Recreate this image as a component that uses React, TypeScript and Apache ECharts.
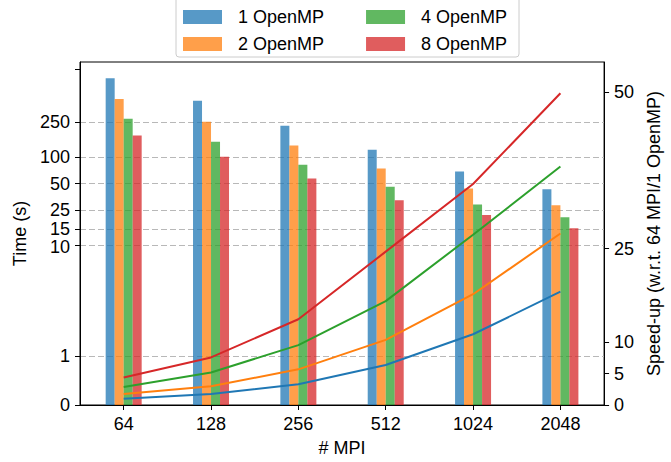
import React, { useEffect, useRef } from "react";
import * as echarts from "echarts";

const mpiCategories = ["64", "128", "256", "512", "1024", "2048"];
const seriesNames = ["1 OpenMP", "2 OpenMP", "4 OpenMP", "8 OpenMP"];

// Time (s) per MPI count, for each OpenMP setting
const time1 = [780, 433, 226, 121, 68.5, 43];
const time2 = [455, 251, 135, 74, 44, 28.5];
const time4 = [271, 149, 82, 46, 29, 20.8];
const time8 = [175, 101, 57, 32.4, 22, 15.6];

// Speed-up w.r.t. 64 MPI / 1 OpenMP
const speedup1 = [1.0, 1.75, 3.33, 6.4, 11.3, 18.1];
const speedup2 = [1.75, 3.0, 5.7, 10.4, 17.7, 27.4];
const speedup4 = [2.86, 5.2, 9.57, 16.6, 27.2, 38.1];
const speedup8 = [4.4, 7.6, 13.7, 24.5, 35.3, 49.8];

const timeTicks = [0, 1, 10, 15, 25, 50, 100, 250];
const timeMinorTicks = [1000];
const speedupTicks = [0, 5, 10, 25, 50];

const lineColors = ["#1f77b4", "#ff7f0e", "#2ca02c", "#d62728"];
const barColors = [
  "rgba(31,119,180,0.75)",
  "rgba(255,127,14,0.75)",
  "rgba(44,160,44,0.75)",
  "rgba(214,39,40,0.75)",
];

// symlog transform (base 10, linthresh 2, linscale 1)
const LINTHRESH = 2;
const LINSCALE_ADJ = 1 / (1 - 1 / 10);
const symlog = (v: number) =>
  v <= LINTHRESH
    ? (v * LINSCALE_ADJ) / LINTHRESH
    : LINSCALE_ADJ + Math.log10(v / LINTHRESH);

const TIME_AXIS_MAX = 3.887;
const SPEEDUP_AXIS_MAX = 54.8;

export default function App() {
  const ref = useRef<HTMLDivElement>(null);

  useEffect(() => {
    if (!ref.current) return;
    const chart = echarts.init(ref.current, undefined, { renderer: "svg" });
    const font = "'Liberation Sans', Arial, sans-serif";
    const times = [time1, time2, time4, time8];
    const speedups = [speedup1, speedup2, speedup4, speedup8];
    const txt = { fontSize: 18, color: "#000", fontFamily: font };

    const timeFormatter = (val: number) => {
      const t = timeTicks.find((x) => Math.abs(symlog(x) - val) < 1e-6);
      if (t === undefined) return "";
      if (t === 15) return "{up|15}";
      if (t === 10) return "{down|10}";
      return String(t);
    };

    const legendBase = {
      orient: "horizontal",
      itemWidth: 39,
      itemHeight: 14,
      itemGap: 42,
      padding: 0,
      icon: "rect",
      selectedMode: false,
      left: 183,
      textStyle: { ...txt, lineHeight: 20, padding: [0, 0, 0, 11] },
    };

    const option: any = {
      animation: false,
      backgroundColor: "#ffffff",
      textStyle: { fontFamily: font },
      grid: {
        left: 80,
        right: 56,
        top: 62,
        bottom: 55,
        show: true,
        borderColor: "#000",
        borderWidth: 1,
        backgroundColor: "transparent",
      },
      graphic: [
        {
          type: "rect",
          z: 0,
          shape: { x: 176, y: -3, width: 343, height: 60, r: 3 },
          style: { fill: "#ffffff", stroke: "#cccccc", lineWidth: 1 },
        },
      ],
      legend: [
        { ...legendBase, top: 7, data: [seriesNames[0], seriesNames[2]] },
        { ...legendBase, top: 34, data: [seriesNames[1], seriesNames[3]] },
      ],
      xAxis: {
        type: "category",
        data: mpiCategories,
        name: "# MPI",
        nameLocation: "middle",
        nameGap: 34,
        nameTextStyle: txt,
        axisLine: { show: true, lineStyle: { color: "#000", width: 1 } },
        axisTick: { show: true, alignWithLabel: true, length: 5, lineStyle: { color: "#000" } },
        axisLabel: { ...txt, margin: 10 },
        splitLine: { show: false },
      },
      yAxis: [
        {
          type: "value",
          position: "left",
          min: 0,
          max: TIME_AXIS_MAX,
          name: "Time (s)",
          nameLocation: "middle",
          nameGap: 50,
          nameTextStyle: txt,
          axisLine: { show: true, lineStyle: { color: "#000", width: 1 } },
          axisTick: {
            show: true,
            length: 5,
            customValues: timeTicks.map(symlog),
            lineStyle: { color: "#000" },
          },
          axisLabel: {
            ...txt,
            lineHeight: 15,
            margin: 10,
            customValues: timeTicks.map(symlog),
            formatter: timeFormatter,
            rich: {
              up: { ...txt, lineHeight: 14, padding: [0, 0, 2, 0] },
              down: { ...txt, lineHeight: 14, padding: [4, 0, 0, 0] },
            },
          },
          splitLine: {
            show: true,
            lineStyle: { color: "#b8b8b8", type: [6, 3], width: 1 },
          },
        },
        {
          type: "value",
          position: "left",
          min: 0,
          max: TIME_AXIS_MAX,
          axisLine: { show: false },
          axisTick: {
            show: true,
            length: 5,
            customValues: timeMinorTicks.map(symlog),
            lineStyle: { color: "#000" },
          },
          axisLabel: { show: false },
          splitLine: { show: false },
        },
        {
          type: "value",
          position: "right",
          min: 0,
          max: SPEEDUP_AXIS_MAX,
          name: "Speed-up (w.r.t. 64 MPI/1 OpenMP)",
          nameLocation: "middle",
          nameGap: 32,
          nameTextStyle: txt,
          axisLine: { show: true, lineStyle: { color: "#000", width: 1 } },
          axisTick: {
            show: true,
            length: 5,
            customValues: speedupTicks,
            lineStyle: { color: "#000" },
          },
          axisLabel: { ...txt, lineHeight: 15, margin: 10, customValues: speedupTicks },
          splitLine: { show: false },
        },
      ],
      series: [
        ...times.map((arr, i) => ({
          type: "bar",
          name: seriesNames[i],
          yAxisIndex: 0,
          data: arr.map(symlog),
          barWidth: 9,
          barGap: "0%",
          itemStyle: { color: barColors[i] },
          z: 2,
        })),
        ...speedups.map((arr, i) => ({
          type: "line",
          name: seriesNames[i] + " speed-up",
          yAxisIndex: 2,
          data: arr,
          symbol: "none",
          lineStyle: { color: lineColors[i], width: 2 },
          itemStyle: { color: lineColors[i] },
          z: 3,
        })),
      ],
    };

    chart.setOption(option);
    return () => chart.dispose();
  }, []);

  return (
    <div
      ref={ref}
      style={{ position: "fixed", left: 0, top: 0, width: 671, height: 462, background: "#fff" }}
    />
  );
}
